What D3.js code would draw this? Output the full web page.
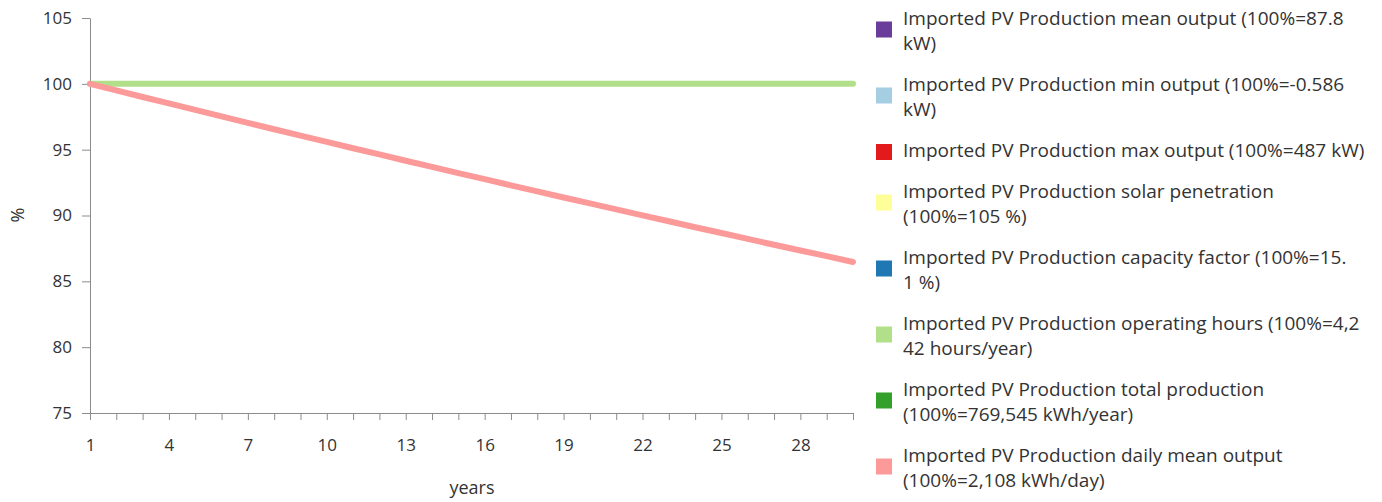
<!DOCTYPE html>
<html>
<head>
<meta charset="utf-8">
<script src="https://cdn.jsdelivr.net/npm/d3@7"></script>
<style>
  html, body { margin: 0; padding: 0; background: #fff; }
  svg { display: block; }
  svg text { font-family: "Open Sans", "Noto Sans", sans-serif; fill: #333; }
  .axis path, .axis line { stroke: #8c8c8c; }
  .axis text { font-size: 17px; }
</style>
</head>
<body>
<svg id="chart" width="1382" height="502"></svg>
<script>
// Project years
const years = d3.range(1, 31);

// Series values, % of first-year value
const operatingHours = [100, 100, 100, 100, 100, 100, 100, 100, 100, 100,
  100, 100, 100, 100, 100, 100, 100, 100, 100, 100,
  100, 100, 100, 100, 100, 100, 100, 100, 100, 100];
const dailyMeanOutput = [100, 99.50, 99.00, 98.51, 98.02, 97.53, 97.04, 96.55, 96.07, 95.59,
  95.11, 94.64, 94.16, 93.69, 93.22, 92.76, 92.29, 91.83, 91.37, 90.92,
  90.46, 90.01, 89.56, 89.11, 88.67, 88.22, 87.78, 87.34, 86.91, 86.47];

// Axis ticks
const yTicks = [75, 80, 85, 90, 95, 100, 105];
const xLabelTicks = [1, 4, 7, 10, 13, 16, 19, 22, 25, 28];

// Legend entries (already wrapped into lines) and colours
const legendLines = [
  ["Imported PV Production mean output (100%=87.8", "kW)"],
  ["Imported PV Production min output (100%=-0.586", "kW)"],
  ["Imported PV Production max output (100%=487 kW)"],
  ["Imported PV Production solar penetration", "(100%=105 %)"],
  ["Imported PV Production capacity factor (100%=15.", "1 %)"],
  ["Imported PV Production operating hours (100%=4,2", "42 hours/year)"],
  ["Imported PV Production total production", "(100%=769,545 kWh/year)"],
  ["Imported PV Production daily mean output", "(100%=2,108 kWh/day)"]
];
const legendColors = ["#6a3d9a", "#a6cee3", "#e31a1c", "#ffff99", "#1f78b4", "#b2df8a", "#33a02c", "#fb9a99"];

const svg = d3.select("#chart");
const x = d3.scaleLinear().domain([1, 30]).range([90, 853]);
const y = d3.scaleLinear().domain([75, 105]).range([413, 18]);

// Y axis
svg.append("g").attr("class", "axis")
  .attr("transform", `translate(${x(1)},0)`)
  .call(d3.axisLeft(y).tickValues(yTicks).tickSize(8).tickPadding(10).tickSizeOuter(0))
  .call(g => g.attr("font-family", null).attr("font-size", null));

// X axis: minor tick every year, labels every third year
svg.append("g").attr("class", "axis")
  .attr("transform", `translate(0,${y(75)})`)
  .call(d3.axisBottom(x).tickValues(years).tickSize(7).tickPadding(19).tickSizeOuter(0)
    .tickFormat(d => xLabelTicks.includes(d) ? d : ""))
  .call(g => g.attr("font-family", null).attr("font-size", null));

// Axis titles
svg.append("text").attr("x", 472).attr("y", 494).attr("text-anchor", "middle")
  .style("font-size", "18px").text("years");
svg.append("text").attr("transform", "translate(24,215) rotate(-90)")
  .attr("text-anchor", "middle").style("font-size", "18px").text("%");

// Lines
const line = d3.line().x((d, i) => x(years[i])).y(d => y(d));
svg.append("path").datum(operatingHours)
  .attr("d", line).attr("fill", "none").attr("stroke", legendColors[5])
  .attr("stroke-width", 6).attr("stroke-linecap", "round");
svg.append("path").datum(dailyMeanOutput)
  .attr("d", line).attr("fill", "none").attr("stroke", legendColors[7])
  .attr("stroke-width", 6).attr("stroke-linecap", "round");

// Legend
const lineH = 25, itemGap = 41;
let cy = 20;
const legend = svg.append("g").attr("class", "legend");
legendLines.forEach((lines, i) => {
  const g = legend.append("g");
  const top = cy;
  lines.forEach((t, j) => {
    g.append("text").attr("x", 903).attr("y", top + j * lineH)
      .attr("dominant-baseline", "middle")
      .style("font-size", "19px").text(t);
  });
  const mid = top + (lines.length - 1) * lineH / 2 - (lines.length > 1 ? 3 : 0);
  g.append("rect").attr("x", 876).attr("y", mid - 8).attr("width", 16).attr("height", 16)
    .attr("fill", legendColors[i]);
  cy = top + (lines.length - 1) * lineH + itemGap;
});
</script>
</body>
</html>
